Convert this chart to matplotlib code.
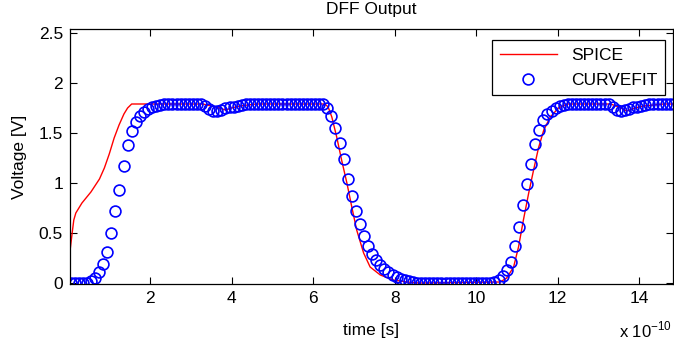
import matplotlib
matplotlib.use("Agg")
import matplotlib.pyplot as plt
import numpy as np

plt.rcParams['font.family'] = ['Liberation Sans', 'DejaVu Sans']

# SPICE waveform, time in units of 1e-10 s
spice_t = [0.04, 0.09, 0.13, 0.18, 0.33, 0.55, 0.76, 0.88, 1.0, 1.12, 1.24, 1.36, 1.45, 1.55,
           3.3, 3.5, 3.7, 3.85, 4.0, 4.2, 4.4, 4.6,
           6.29, 6.37, 6.46, 6.58, 6.7, 6.83, 6.95, 7.07, 7.24, 7.4, 7.65, 7.97, 8.3, 8.6,
           10.59, 10.75, 10.92, 11.04, 11.16, 11.29, 11.41, 11.53, 11.66, 11.82, 12.02, 12.23,
           13.3, 13.5, 13.7, 13.9, 14.1, 14.35, 14.6, 14.85]
spice_v = [0.33, 0.50, 0.63, 0.70, 0.80, 0.91, 1.04, 1.15, 1.29, 1.45, 1.58, 1.69, 1.75, 1.79,
           1.79, 1.77, 1.75, 1.73, 1.75, 1.77, 1.78, 1.79,
           1.79, 1.76, 1.66, 1.46, 1.23, 1.00, 0.76, 0.53, 0.30, 0.16, 0.08, 0.03, 0.01, 0.00,
           0.01, 0.05, 0.16, 0.36, 0.63, 0.90, 1.13, 1.35, 1.53, 1.66, 1.75, 1.79,
           1.79, 1.76, 1.72, 1.75, 1.77, 1.78, 1.79, 1.79]

# curve fit samples, one every 0.1e-10 s starting at 0.05e-10 s
fit_t = np.round(np.arange(0.05, 14.9, 0.1), 2)
fit_v = [0.00, 0.00, 0.00, 0.00, 0.00, 0.02, 0.05, 0.11, 0.19, 0.31,
         0.50, 0.72, 0.93, 1.17, 1.38, 1.52, 1.61, 1.67, 1.71, 1.74,
         1.76, 1.77, 1.78, 1.79, 1.79, 1.79, 1.79, 1.79, 1.79, 1.79,
         1.79, 1.79, 1.79, 1.77, 1.74, 1.72, 1.72, 1.73, 1.75, 1.76,
         1.76, 1.77, 1.78, 1.79, 1.79, 1.79, 1.79, 1.79, 1.79, 1.79,
         1.79, 1.79, 1.79, 1.79, 1.79, 1.79, 1.79, 1.79, 1.79, 1.79,
         1.79, 1.79, 1.79, 1.75, 1.67, 1.55, 1.40, 1.24, 1.04, 0.87,
         0.72, 0.59, 0.47, 0.37, 0.29, 0.23, 0.18, 0.14, 0.11, 0.08,
         0.06, 0.04, 0.03, 0.02, 0.01, 0.00, 0.00, 0.00, 0.00, 0.00,
         0.00, 0.00, 0.00, 0.00, 0.00, 0.00, 0.00, 0.00, 0.00, 0.00,
         0.00, 0.00, 0.00, 0.00, 0.01, 0.03, 0.07, 0.13, 0.21, 0.37,
         0.56, 0.78, 0.99, 1.19, 1.39, 1.53, 1.63, 1.69, 1.72, 1.75,
         1.77, 1.78, 1.79, 1.79, 1.79, 1.79, 1.79, 1.79, 1.79, 1.79,
         1.79, 1.79, 1.79, 1.76, 1.73, 1.72, 1.73, 1.74, 1.76, 1.76,
         1.77, 1.78, 1.79, 1.79, 1.79, 1.79, 1.79, 1.79, 1.79]

scale = 1e-10

fig = plt.figure(figsize=(6.74, 3.45), dpi=100)
ax = fig.add_axes([70 / 674, 61 / 345, 603 / 674, 255 / 345])

ax.plot(np.array(spice_t) * scale, spice_v, color='red', lw=1.0, label='SPICE')
ax.plot(fit_t * scale, fit_v, 'o', mfc='none', mec='blue', ms=7.8, mew=1.2,
        label='CURVEFIT')

ax.set_xlim(0.037 * scale, 14.83 * scale)
ax.set_ylim(-0.01, 2.54)
ax.set_xticks(np.array([2, 4, 6, 8, 10, 12, 14]) * scale)
ax.set_xticklabels(['2', '4', '6', '8', '10', '12', '14'])
ax.set_yticks([0, 0.5, 1, 1.5, 2, 2.5])
ax.set_yticklabels(['0', '0.5', '1', '1.5', '2', '2.5'])
ax.tick_params(direction='in', top=True, right=True, length=5, width=0.8,
               labelsize=12.5, pad=5)
for s in ax.spines.values():
    s.set_linewidth(0.9)

ax.set_xlabel('time [s]', fontsize=12.5)
ax.xaxis.set_label_coords(0.5, -0.153)
ax.set_ylabel('Voltage [V]', fontsize=12.5, va='center')
ax.yaxis.set_label_coords(-0.083, 0.5)
ax.text(0.5, 1.075, 'DFF Output', transform=ax.transAxes, ha='center',
        va='center', fontsize=12.5)
fig.text(672 / 674, 1 - 330 / 345, r'x 10$^{\mathregular{-10}}$', ha='right',
         va='center', fontsize=12)

leg = ax.legend(loc='upper right', bbox_to_anchor=(0.987, 0.957), fontsize=12.5,
                frameon=True, fancybox=False, edgecolor='black', framealpha=1,
                handlelength=3.3, borderpad=0.45, labelspacing=0.55, borderaxespad=0)
leg.get_frame().set_linewidth(0.9)

fig.savefig('out.png', dpi=100)
